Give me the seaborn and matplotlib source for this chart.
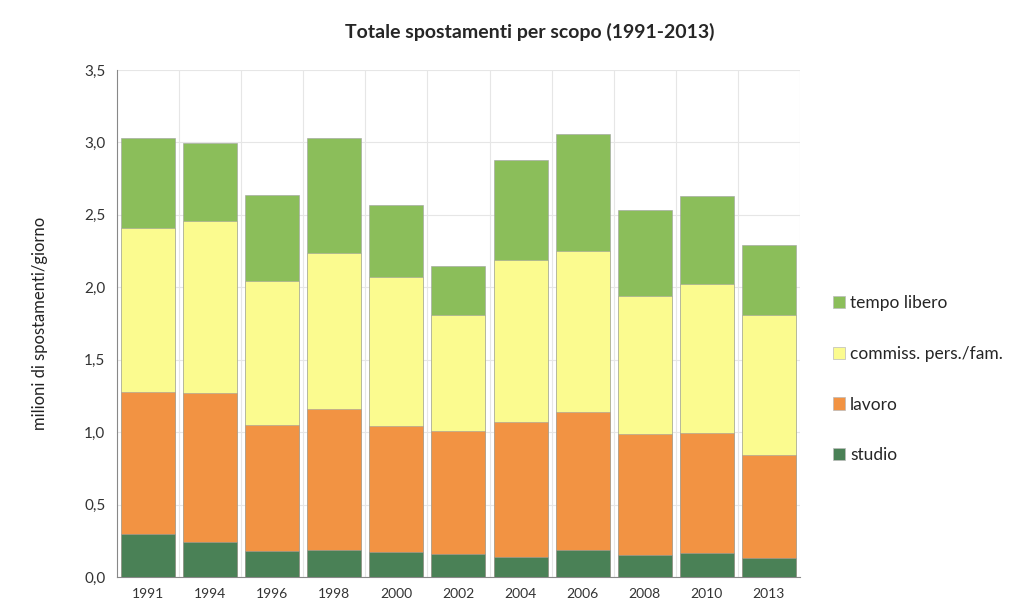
import pandas as pd
import matplotlib.pyplot as plt
import matplotlib.ticker as mticker
from matplotlib.patches import Patch
import seaborn as sns

years = ["1991", "1994", "1996", "1998", "2000", "2002", "2004", "2006", "2008", "2010", "2013"]
studio = [0.30, 0.245, 0.18, 0.19, 0.175, 0.16, 0.14, 0.19, 0.15, 0.165, 0.135]
lavoro = [0.975, 1.025, 0.87, 0.97, 0.865, 0.845, 0.93, 0.95, 0.84, 0.83, 0.71]
commiss = [1.135, 1.19, 0.99, 1.08, 1.03, 0.805, 1.12, 1.11, 0.95, 1.025, 0.965]
tempo = [0.62, 0.535, 0.60, 0.79, 0.495, 0.34, 0.69, 0.81, 0.59, 0.61, 0.48]

labels = ["studio", "lavoro", "commiss. pers./fam.", "tempo libero"]
colors = ["#4a8156", "#f29343", "#fbfb8f", "#8bbe5a"]

df = pd.DataFrame({"anno": years, "studio": studio, "lavoro": lavoro,
                   "commiss": commiss, "tempo": tempo})
# cumulative heights for stacking
cum = df[["studio", "lavoro", "commiss", "tempo"]].cumsum(axis=1)

sns.set_style("white")
plt.rcParams['font.family'] = ['Lato', 'DejaVu Sans']

fig = plt.figure(figsize=(10.28, 6.03), dpi=100)
ax = fig.add_axes([0.114, 0.043, 0.664, 0.841])

# draw from the top layer down so the lower layers cover it
for col, color in zip(["tempo", "commiss", "lavoro", "studio"], colors[::-1]):
    sns.barplot(x=df["anno"], y=cum[col], color=color, saturation=1,
                width=0.87, edgecolor="#a0a0a0", linewidth=0.4, ax=ax, zorder=3)

ax.set_ylim(0, 3.5)
ax.set_xlim(-0.5, len(years) - 0.5)
ax.yaxis.set_major_locator(mticker.MultipleLocator(0.5))
ax.yaxis.set_major_formatter(mticker.FuncFormatter(lambda v, p: f"{v:.1f}".replace(".", ",")))
ax.xaxis.set_minor_locator(mticker.FixedLocator([i + 0.5 for i in range(len(years))]))
ax.grid(axis="y", which="major", color="#e6e6e6", linewidth=0.8, zorder=0)
ax.grid(axis="x", which="minor", color="#e6e6e6", linewidth=0.8, zorder=0)
ax.set_axisbelow(True)

for s in ["top", "right"]:
    ax.spines[s].set_visible(False)
ax.spines["left"].set_color("#888888")
ax.spines["bottom"].set_color("#888888")
ax.tick_params(axis="y", which="major", length=5, color="#888888", labelsize=11, labelcolor="#333333")
ax.tick_params(axis="x", which="both", length=0, pad=8, labelsize=10, labelcolor="#333333")

ax.set_xlabel("")
ax.set_ylabel("milioni di spostamenti/giorno", fontsize=12, color="#222222", labelpad=26)
fig.suptitle("Totale spostamenti per scopo (1991-2013)", x=0.515, y=0.962,
             fontsize=14, fontweight="bold")

handles = [Patch(facecolor=c, edgecolor="#bbbbbb", linewidth=0.5, label=l)
           for l, c in zip(labels[::-1], colors[::-1])]
fig.legend(handles=handles, loc="center left", bbox_to_anchor=(0.795, 0.371),
           frameon=False, fontsize=12.5, labelspacing=2.0, handlelength=0.7,
           handleheight=0.7, handletextpad=0.3)

fig.savefig("out.png", dpi=100)
plt.close()
